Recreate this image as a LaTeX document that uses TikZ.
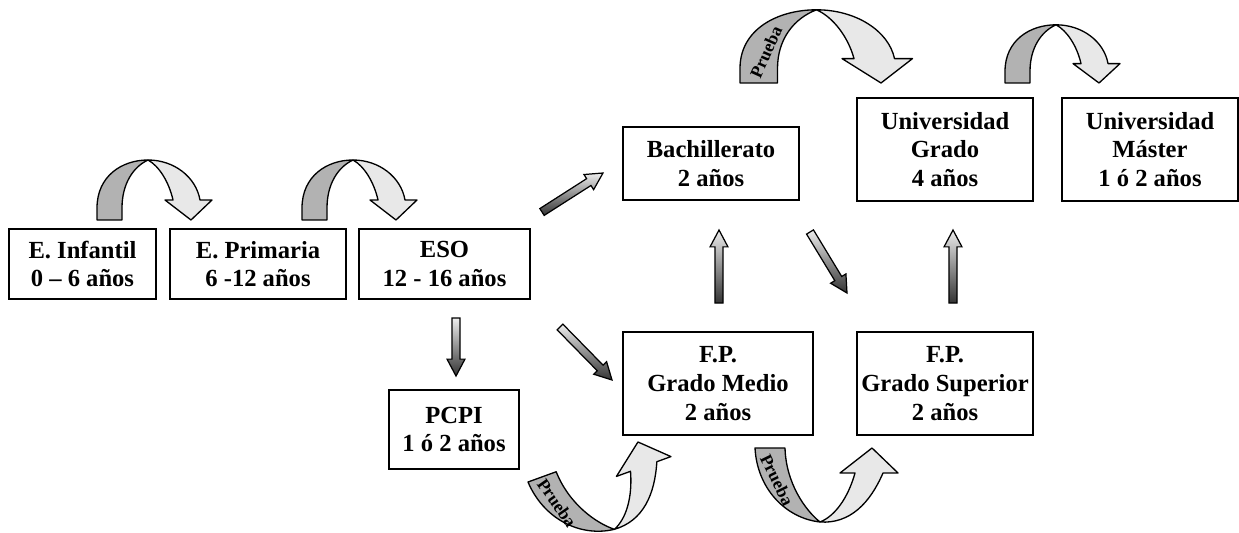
\documentclass[tikz,border=0pt]{standalone}
\usepackage{fontspec}
\setmainfont{Liberation Serif}
\usetikzlibrary{calc}

\definecolor{bandback}{gray}{0.70}
\definecolor{bandfront}{gray}{0.91}
\definecolor{shadetop}{gray}{0.93}
\definecolor{shadebot}{gray}{0.20}

% ribbon arrow bending over the top
\newcommand{\toparc}[3]{%
  \begin{scope}[shift={#1}, xscale=#2, yscale=#3]
    \path[band, fill=bandback] (0,0) -- (0,-12) .. controls (0,-44) and (25,-60) .. (51,-60)
      .. controls (36,-53) and (25,-36) .. (25,-12) -- (25,0) -- cycle;
    \path[band, fill=bandfront] (51,-60) .. controls (77,-60) and (99,-43) .. (103,-20)
      -- (115,-20) -- (94,0) -- (68,-20) -- (76,-20)
      .. controls (72,-38) and (62,-54) .. (51,-60) -- cycle;
  \end{scope}}

% ribbon arrow dipping underneath
\newcommand{\botarc}[2]{%
  \begin{scope}[shift={#1}, rotate=#2]
    \path[band, fill=bandback] (0,0) .. controls (2,40) and (30,70) .. (65,74)
      .. controls (50,62) and (31,35) .. (30,0) -- cycle;
    \path[band, fill=bandfront] (65,74) .. controls (95,76) and (115,55) .. (128,25)
      -- (143,25) -- (117,0) -- (85,25) -- (100,25)
      .. controls (93,50) and (80,68) .. (65,74) -- cycle;
  \end{scope}}

% shaded block arrow between two named points
\newcommand{\gradarrow}[2]{%
  \coordinate (hb) at ($(#2)!9.6pt!(#1)$);
  \path[shaft] ($(#1)!2.3pt!90:(#2)$) -- ($(hb)!2.3pt!90:(#2)$) -- ($(hb)!5.1pt!90:(#2)$)
    -- (#2) -- ($(hb)!5.1pt!-90:(#2)$) -- ($(hb)!2.3pt!-90:(#2)$)
    -- ($(#1)!2.3pt!-90:(#2)$) -- cycle;}

\begin{document}
\begin{tikzpicture}[
  x=0.02cm, y=-0.02cm,
  stage/.style={draw, line width=1pt, align=center, inner sep=0pt,
    font=\fontsize{14}{16.4}\selectfont\bfseries},
  band/.style={draw, line width=0.75pt, line join=round},
  shaft/.style={draw, line width=0.7pt, line join=miter, top color=shadetop, bottom color=shadebot},
  prueba/.style={font=\fontsize{10}{10}\selectfont\bfseries, inner sep=0pt}
]
\useasboundingbox (0,0) rectangle (1239,533);

\node[stage, minimum width=2.94cm, minimum height=1.4cm] (inf) at (82.5,264) {E. Infantil\\0 – 6 años};
\node[stage, minimum width=3.52cm, minimum height=1.4cm] (pri) at (258,264) {E. Primaria\\6 -12 años};
\node[stage, minimum width=3.42cm, minimum height=1.4cm] (eso) at (444.5,264) {ESO\\12 - 16 años};
\node[stage, minimum width=3.52cm, minimum height=1.46cm] (bach) at (711,163.5) {Bachillerato\\2 años};
\node[stage, minimum width=3.52cm, minimum height=2.06cm] (ugr) at (945,149.5) {Universidad\\Grado\\4 años};
\node[stage, minimum width=3.52cm, minimum height=2.06cm] (umas) at (1150,149.5) {Universidad\\Máster\\1 ó 2 años};
\node[stage, minimum width=3.8cm, minimum height=2.06cm] (fpm) at (718,383.5) {F.P.\\Grado Medio\\2 años};
\node[stage, minimum width=3.52cm, minimum height=2.06cm] (fps) at (945,383.5) {F.P.\\Grado Superior\\2 años};
\node[stage, minimum width=2.6cm, minimum height=1.58cm] (pcpi) at (454,429.5) {PCPI\\1 ó 2 años};

% ribbon arrows
\toparc{(97,220)}{1}{1}
\toparc{(302,220)}{1}{1}
\toparc{(740,83)}{1.5}{1.22}
\toparc{(1005,83)}{1}{0.97}
\botarc{(528,482)}{20}
\botarc{(755,448)}{0}

\node[prueba, rotate=66] (pr1) at (766,52) {Prueba};
\node[prueba, rotate=-55] (pr2) at (557,503) {Prueba};
\node[prueba, rotate=-64] (pr3) at (777,480) {Prueba};

% shaded arrows
\coordinate (eb1) at (542,212);  \coordinate (eb2) at (603,173);
\coordinate (ef1) at (560,327);  \coordinate (ef2) at (612,380);
\coordinate (ep1) at (456,318);  \coordinate (ep2) at (456,376);
\coordinate (mb1) at (719,303);  \coordinate (mb2) at (719,230);
\coordinate (bs1) at (810,232);  \coordinate (bs2) at (847,293);
\coordinate (su1) at (953,303);  \coordinate (su2) at (953,230);
\gradarrow{eb1}{eb2}
\gradarrow{ef1}{ef2}
\gradarrow{ep1}{ep2}
\gradarrow{mb1}{mb2}
\gradarrow{bs1}{bs2}
\gradarrow{su1}{su2}
\end{tikzpicture}
\end{document}
